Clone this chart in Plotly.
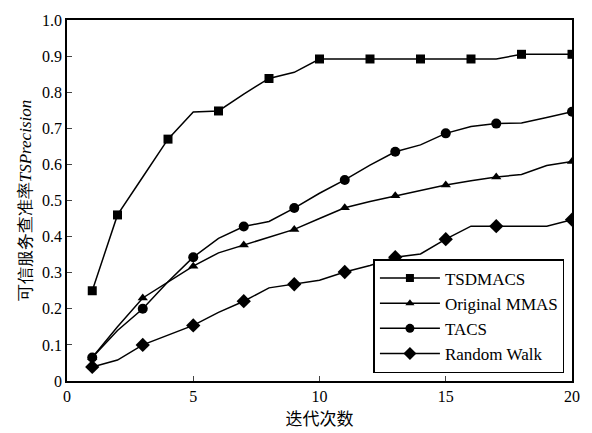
import plotly.graph_objects as go

iterations = list(range(1, 21))
tsdmacs = [0.25, 0.46, 0.565, 0.67, 0.745, 0.748, 0.795, 0.838, 0.855, 0.892,
           0.892, 0.892, 0.892, 0.892, 0.892, 0.892, 0.892, 0.905, 0.905, 0.905]
mmas = [0.065, 0.15, 0.23, 0.275, 0.318, 0.355, 0.377, 0.397, 0.42, 0.45,
        0.48, 0.497, 0.513, 0.528, 0.543, 0.555, 0.565, 0.572, 0.597, 0.608]
tacs = [0.065, 0.14, 0.20, 0.275, 0.343, 0.395, 0.428, 0.442, 0.479, 0.52,
        0.557, 0.598, 0.635, 0.654, 0.686, 0.705, 0.713, 0.715, 0.73, 0.746]
rwalk = [0.039, 0.058, 0.10, 0.127, 0.154, 0.19, 0.221, 0.258, 0.268, 0.279,
         0.302, 0.32, 0.343, 0.352, 0.393, 0.429, 0.429, 0.429, 0.429, 0.447]

series_names = ["TSDMACS", "Original MMAS", "TACS", "Random Walk"]
marker_iters = [
    [1, 2, 4, 6, 8, 10, 12, 14, 16, 18, 20],
    [1, 3, 5, 7, 9, 11, 13, 15, 17, 20],
    [1, 3, 5, 7, 9, 11, 13, 15, 17, 20],
    [1, 3, 5, 7, 9, 11, 13, 15, 17, 20],
]
x_ticks = [0, 5, 10, 15, 20]
y_ticks = [0, 0.1, 0.2, 0.3, 0.4, 0.5, 0.6, 0.7, 0.8, 0.9, 1.0]
y_ticktext = ["0", "0.1", "0.2", "0.3", "0.4", "0.5", "0.6", "0.7", "0.8", "0.9", "1.0"]

symbols = ["square", "triangle-up", "circle", "diamond"]
sizes = [9, 9, 10, 11]
all_series = [tsdmacs, mmas, tacs, rwalk]

fig = go.Figure()
for name, ys, mk, sym, sz in zip(series_names, all_series, marker_iters, symbols, sizes):
    fig.add_trace(go.Scatter(x=iterations, y=ys, mode="lines",
                             line=dict(color="black", width=1.5), showlegend=False,
                             hoverinfo="skip"))
    mx = [iterations[i] for i in range(len(iterations)) if iterations[i] in mk]
    my = [ys[i] for i in range(len(iterations)) if iterations[i] in mk]
    fig.add_trace(go.Scatter(x=mx, y=my, mode="markers",
                             marker=dict(symbol=sym, size=sz, color="black"),
                             showlegend=False))
    fig.add_trace(go.Scatter(x=[None], y=[None], mode="lines+markers", name=name,
                             line=dict(color="black", width=1.5),
                             marker=dict(symbol=sym, size=sz - 1, color="black")))

serif = "'Liberation Serif', 'DejaVu Serif', serif"
fig.update_layout(
    width=592, height=433,
    margin=dict(l=67, r=20, t=17, b=47),
    paper_bgcolor="white", plot_bgcolor="white",
    font=dict(family=serif, size=16, color="black"),
    legend=dict(x=0.985, y=0.022, xanchor="right", yanchor="bottom",
                bordercolor="black", borderwidth=1.5, bgcolor="white",
                font=dict(size=17, family=serif), tracegroupgap=0, itemwidth=60),
    xaxis=dict(range=[0, 20], tickvals=x_ticks, ticks="inside", ticklen=5,
               showline=True, mirror=True, linecolor="black", linewidth=1.5,
               showgrid=False, zeroline=False,
               tickfont=dict(family=serif, size=16),
               title=dict(text="迭代次数", standoff=4,
                          font=dict(size=17, family="'Noto Sans CJK SC'"))),
    yaxis=dict(range=[0, 1.0], tickvals=y_ticks, ticktext=y_ticktext,
               ticks="inside", ticklen=5,
               showline=True, mirror=True, linecolor="black", linewidth=1.5,
               showgrid=False, zeroline=False,
               tickfont=dict(family=serif, size=16),
               title=dict(text="可信服务查准率<i>TSPrecision</i>", standoff=6,
                          font=dict(size=17, family=serif))),
)

fig.write_html("out.html")
